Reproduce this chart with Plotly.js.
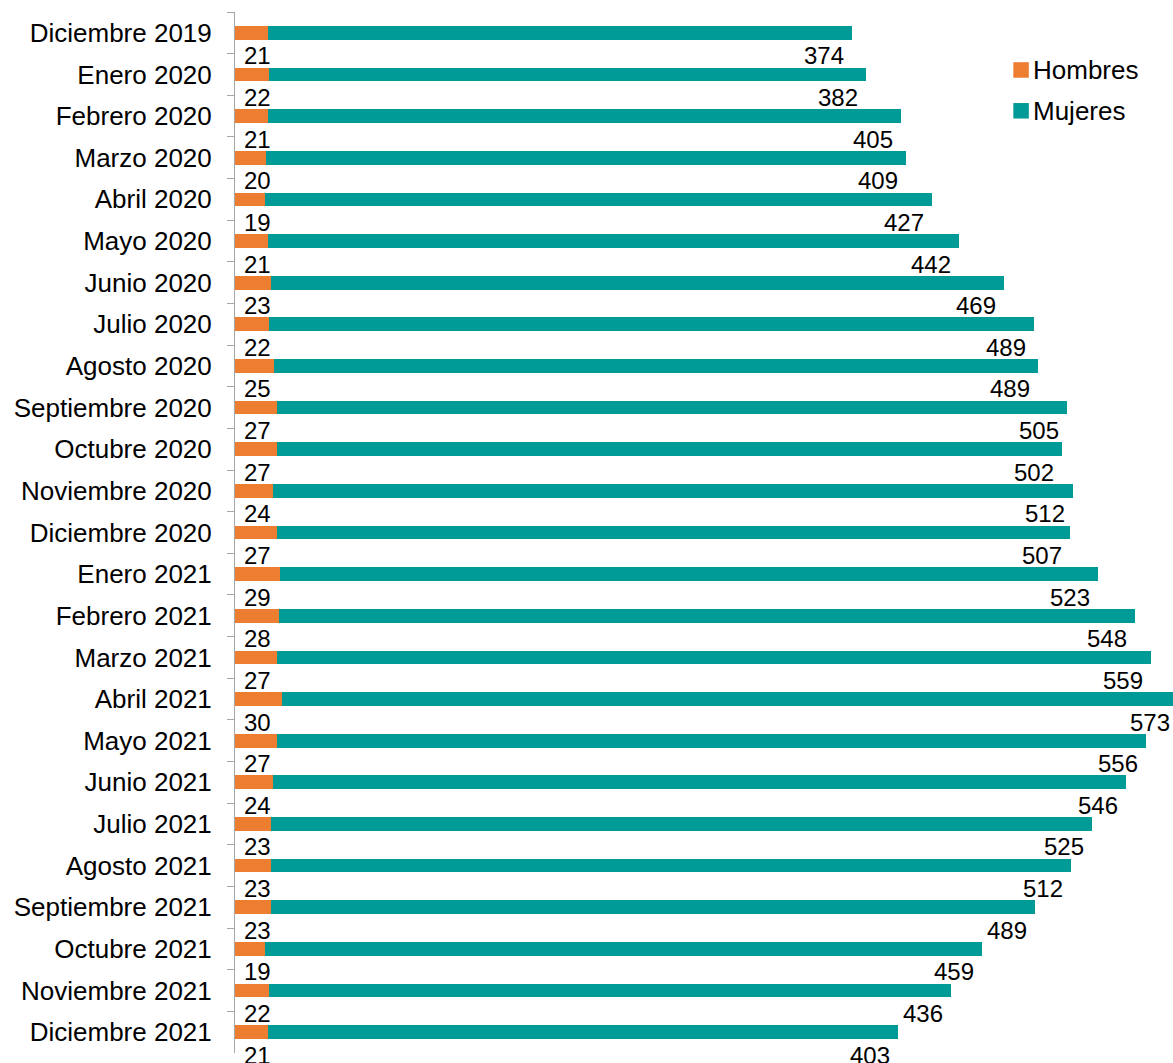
<!DOCTYPE html>
<html>
<head>
<meta charset="utf-8">
<script src="https://cdn.plot.ly/plotly-3.0.1.min.js"></script>
<style>
  html, body { margin: 0; padding: 0; overflow: hidden; background: #ffffff; }
  #chart { width: 1190px; height: 1063px; }
</style>
</head>
<body>
<div id="chart"></div>
<script>
const categories = [
  "Diciembre 2019", "Enero 2020", "Febrero 2020", "Marzo 2020", "Abril 2020",
  "Mayo 2020", "Junio 2020", "Julio 2020", "Agosto 2020", "Septiembre 2020",
  "Octubre 2020", "Noviembre 2020", "Diciembre 2020", "Enero 2021", "Febrero 2021",
  "Marzo 2021", "Abril 2021", "Mayo 2021", "Junio 2021", "Julio 2021",
  "Agosto 2021", "Septiembre 2021", "Octubre 2021", "Noviembre 2021", "Diciembre 2021"
];
const hombres = [21, 22, 21, 20, 19, 21, 23, 22, 25, 27, 27, 24, 27, 29, 28, 27, 30, 27, 24, 23, 23, 23, 19, 22, 21];
const mujeres = [374, 382, 405, 409, 427, 442, 469, 489, 489, 505, 502, 512, 507, 523, 548, 559, 573, 556, 546, 525, 512, 489, 459, 436, 403];
const seriesNames = ["Hombres", "Mujeres"];
const seriesColors = ["#ED7D31", "#009A97"];

const FONT = "Liberation Sans, Arial, Helvetica, sans-serif";

const traces = [
  {
    type: "bar", orientation: "h", name: seriesNames[0],
    y: categories, x: hombres,
    marker: { color: seriesColors[0], line: { width: 0 } },
    width: 0.33, hoverinfo: "skip", showlegend: false
  },
  {
    type: "bar", orientation: "h", name: seriesNames[1],
    y: categories, x: mujeres,
    marker: { color: seriesColors[1], line: { width: 0 } },
    width: 0.33, hoverinfo: "skip", showlegend: false
  }
];

const annotations = [];
categories.forEach((c, i) => {
  annotations.push({
    xref: "x", yref: "y", x: 0, y: c,
    text: String(hombres[i]), showarrow: false,
    xanchor: "left", yanchor: "middle", xshift: 7, yshift: -23,
    font: { family: FONT, size: 24, color: "#000000" }
  });
  annotations.push({
    xref: "x", yref: "y", x: hombres[i] + mujeres[i], y: c,
    text: String(mujeres[i]), showarrow: false,
    xanchor: "right", yanchor: "middle", xshift: -6, yshift: -23,
    font: { family: FONT, size: 24, color: "#000000" }
  });
});

// Legend (drawn manually to match square size and spacing)
const legendRows = [0.9443, 0.9051];
const shapes = [];
seriesNames.forEach((n, k) => {
  shapes.push({
    type: "rect", xref: "paper", yref: "paper",
    xsizemode: "pixel", ysizemode: "pixel",
    xanchor: 0.815, yanchor: legendRows[k],
    x0: 0, x1: 15.5, y0: -7.75, y1: 7.75,
    fillcolor: seriesColors[k], line: { width: 0 }
  });
  annotations.push({
    xref: "paper", yref: "paper", x: 0.8335, y: legendRows[k],
    text: n, showarrow: false, xanchor: "left", yanchor: "middle",
    font: { family: FONT, size: 26, color: "#000000" }
  });
});

const layout = {
  width: 1190, height: 1063,
  margin: { l: 235, r: 0, t: 12, b: 10, pad: 0 },
  paper_bgcolor: "#ffffff", plot_bgcolor: "#ffffff",
  barmode: "stack",
  showlegend: false,
  xaxis: {
    range: [0, 611], autorange: false, visible: false, showgrid: false, zeroline: false, fixedrange: true
  },
  yaxis: {
    type: "category", autorange: false, range: [categories.length - 0.5, -0.5],
    categoryorder: "array", categoryarray: categories,
    tickson: "boundaries", ticks: "outside", ticklen: 7, tickwidth: 1, tickcolor: "#A6A6A6",
    showline: true, linecolor: "#A6A6A6", linewidth: 1,
    showgrid: false, zeroline: false,
    ticklabelstandoff: 17,
    tickfont: { family: FONT, size: 26, color: "#000000" },
    fixedrange: true
  },
  annotations: annotations,
  shapes: shapes
};

Plotly.newPlot("chart", traces, layout, { displayModeBar: false, staticPlot: true });
</script>
</body>
</html>
